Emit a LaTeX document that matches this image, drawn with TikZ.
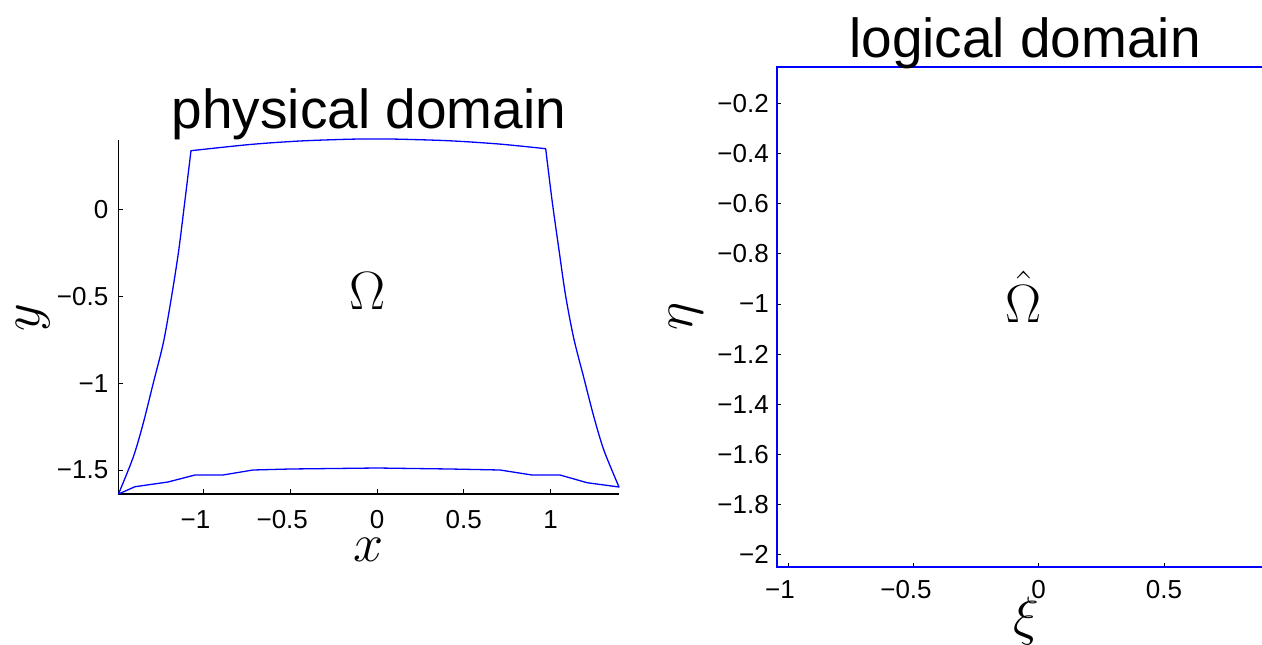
\RequirePackage{fix-cm}
\documentclass[tikz,border=0pt]{standalone}
\usepackage{fontspec}
\setmainfont{Liberation Sans}
\begin{document}
\begin{tikzpicture}[x=1pt,y=-1pt,
  axisline/.style={black, line width=1.1pt},
  tickmark/.style={black, line width=0.9pt},
  curve/.style={blue, line width=1.3pt, line join=round},
  frame/.style={blue, line width=1.8pt},
  ticklbl/.style={font=\fontsize{26}{26}\selectfont, inner sep=0pt},
  titlelbl/.style={font=\fontsize{55}{55}\selectfont, inner sep=0pt, anchor=base},
  mathlbl/.style={font=\fontsize{54}{54}\selectfont, inner sep=0pt}]
\path[use as bounding box] (0,0) rectangle (1262,645);

% ---------- left plot: physical domain ----------
\coordinate (lo) at (118.3,494);
\coordinate (ltop) at (118.3,140);
\coordinate (lright) at (619,494);
\draw[axisline] (ltop) -- (lo) -- (lright);
\foreach \v/\px in {-1/203.5,-0.5/290.25,0/377,0.5/463.75,1/550.5}{
  \draw[tickmark] (\px,494) -- (\px,489);
}
\foreach \v/\py in {0/209.3,-0.5/296.2,-1/383.1,-1.5/470}{
  \draw[tickmark] (118.3,\py) -- (123.3,\py);
}
\node[ticklbl, anchor=base] (lx1) at (195.5,528) {−1};
\node[ticklbl, anchor=base] (lx2) at (282.25,528) {−0.5};
\node[ticklbl, anchor=base] (lx3) at (377,528) {0};
\node[ticklbl, anchor=base] (lx4) at (463.75,528) {0.5};
\node[ticklbl, anchor=base] (lx5) at (550.5,528) {1};
\node[ticklbl, anchor=east] (ly1) at (108.5,209.3) {0};
\node[ticklbl, anchor=east] (ly2) at (108.5,296.2) {−0.5};
\node[ticklbl, anchor=east] (ly3) at (108.5,383.1) {−1};
\node[ticklbl, anchor=east] (ly4) at (108.5,470) {−1.5};

\draw[curve] plot coordinates {(118.5,494) (135,486.7) (168,482) (195,475) (223,475) (253,470) (290,469) (377,468) (450,469) (500,470) (532,475) (560,475) (587,482.7) (619,487)}
  -- plot[smooth, tension=0.5] coordinates {(619,487) (604.0,450.5) (593.9,417.0) (583.8,377.7) (573.7,338.1) (565.5,295) (559,250) (552,200) (545.7,148.7)}
  -- plot[smooth] coordinates {(545.7,148.7) (500,144.1) (450,140.8) (400,139.2) (377,139) (350,139.2) (300,141) (250,144.5) (191,150.7)}
  -- plot[smooth, tension=0.5] coordinates {(191,150.7) (185,200) (178.5,252) (171,300) (163.3,343) (153.3,383) (143.3,423) (133.3,457) (118.5,494)};

\node[titlelbl] (ltitle) at (369,128) {physical domain};
\node[mathlbl] (omega) at (368,291) {$\Omega$};
\node[mathlbl] (xlab) at (369,550) {$x$};
\node[mathlbl, rotate=90] (ylab) at (33,318) {$y$};

% ---------- right plot: logical domain ----------
\foreach \py in {103.3,153.5,203.6,253.8,304,354.2,404.4,454.5,504.7,554.9}{
  \draw[tickmark] (777,\py) -- (781,\py);
}
\foreach \px in {788,913.35,1038.7,1164.05}{
  \draw[tickmark] (\px,567) -- (\px,563);
}
\coordinate (rtl) at (1262,67);
\coordinate (rl) at (777,67);
\coordinate (rbl) at (777,567);
\coordinate (rbr) at (1262,567);
\draw[frame] (rtl) -- (rl) -- (rbl) -- (rbr);

\node[ticklbl, anchor=east] (ry1) at (769,103.3) {−0.2};
\node[ticklbl, anchor=east] (ry2) at (769,153.5) {−0.4};
\node[ticklbl, anchor=east] (ry3) at (769,203.6) {−0.6};
\node[ticklbl, anchor=east] (ry4) at (769,253.8) {−0.8};
\node[ticklbl, anchor=east] (ry5) at (769,304) {−1};
\node[ticklbl, anchor=east] (ry6) at (769,354.2) {−1.2};
\node[ticklbl, anchor=east] (ry7) at (769,404.4) {−1.4};
\node[ticklbl, anchor=east] (ry8) at (769,454.5) {−1.6};
\node[ticklbl, anchor=east] (ry9) at (769,504.7) {−1.8};
\node[ticklbl, anchor=east] (ry10) at (769,554.9) {−2};
\node[ticklbl, anchor=base] (rx1) at (780,598) {−1};
\node[ticklbl, anchor=base] (rx2) at (906,598) {−0.5};
\node[ticklbl, anchor=base] (rx3) at (1038.7,598) {0};
\node[ticklbl, anchor=base] (rx4) at (1164.05,598) {0.5};

\node[titlelbl] (rtitle) at (1025,57) {logical domain};
\node[mathlbl] (omegahat) at (1024,297) {$\hat{\Omega}$};
\node[mathlbl] (xilab) at (1026,621) {$\xi$};
\node[mathlbl, rotate=90] (etalab) at (686,316) {$\eta$};
\end{tikzpicture}
\end{document}
